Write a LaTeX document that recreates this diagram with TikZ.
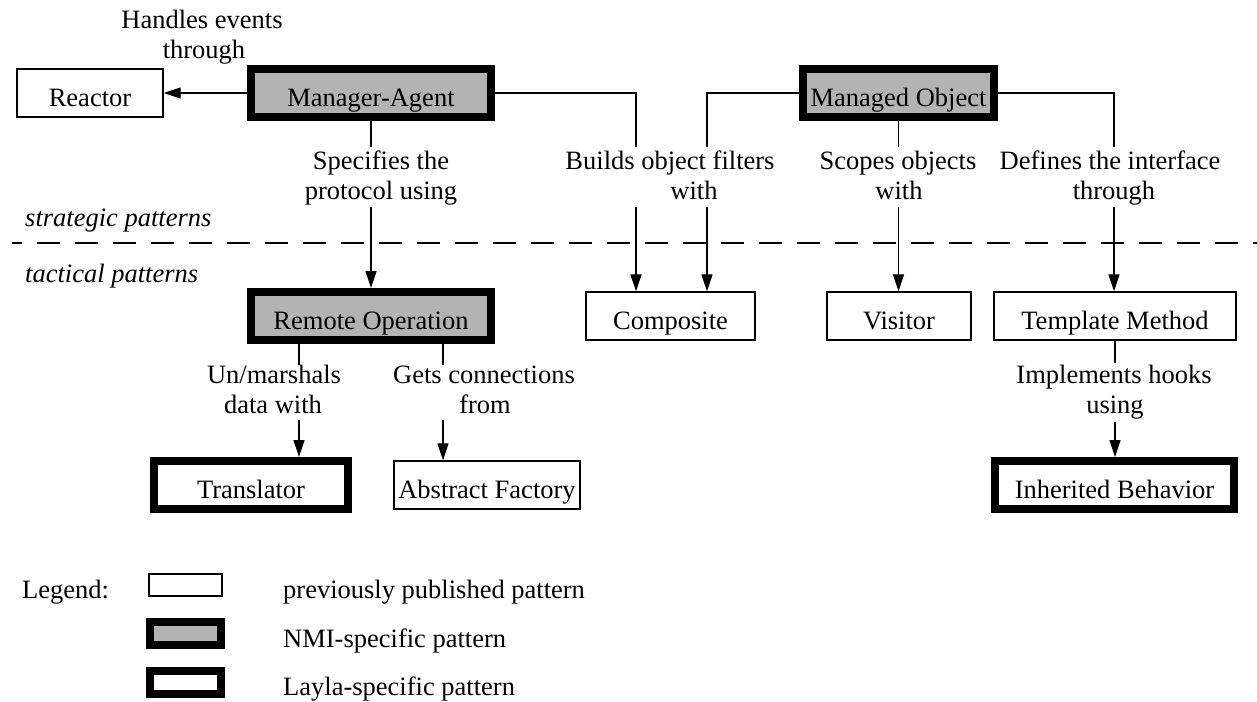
\documentclass[tikz,border=0pt]{standalone}
\usepackage{fontspec}
\setmainfont{Liberation Serif}
\usetikzlibrary{arrows.meta}
\definecolor{boxgray}{RGB}{179,179,179}
\begin{document}
\begin{tikzpicture}[x=1pt,y=-1pt,
  font=\fontsize{26.5}{30}\selectfont,
  base/.style={inner sep=0pt, text height=26pt, text depth=0pt, minimum height=48pt},
  plainbox/.style={base, draw, line width=1.4pt, fill=white},
  nmibox/.style={base, draw, line width=8pt, fill=boxgray},
  laylabox/.style={base, draw, line width=8pt, fill=white},
  conn/.style={line width=1.3pt},
  arr/.style={conn, -{Triangle[length=17pt,width=11pt]}},
  lbl/.style={anchor=base, inner sep=0pt},
  side/.style={anchor=base west, inner sep=0pt},
]
\useasboundingbox (0,0) rectangle (1257,701);

% boxes
\node[plainbox, minimum width=146pt] (reactor) at (90,93) {Reactor};
\node[nmibox, minimum width=240pt] (ma) at (371,93) {Manager-Agent};
\node[nmibox, minimum width=191pt] (mo) at (898.5,93) {Managed Object};
\node[nmibox, minimum width=240pt] (ro) at (371,316) {Remote Operation};
\node[plainbox, minimum width=169pt] (comp) at (670.5,316) {Composite};
\node[plainbox, minimum width=144pt] (vis) at (899,316) {Visitor};
\node[plainbox, minimum width=242pt] (tm) at (1115,316) {Template Method};
\node[laylabox, minimum width=194pt] (tr) at (251,485) {Translator};
\node[plainbox, minimum width=186pt] (af) at (487,485) {Abstract Factory};
\node[laylabox, minimum width=239pt] (ib) at (1114.5,485) {Inherited Behavior};

% labels
\node[lbl] (l1a) at (202,29) {Handles events};
\node[lbl] (l1b) at (204,59) {through};
\node[lbl] (l2a) at (381,169) {Specifies the};
\node[lbl] (l2b) at (381,199) {protocol using};
\node[lbl] (l3a) at (670,169) {Builds object filters};
\node[lbl] (l3b) at (694,199) {with};
\node[lbl] (l4a) at (898,169) {Scopes objects};
\node[lbl] (l4b) at (899,199) {with};
\node[lbl] (l5a) at (1110,169) {Defines the interface};
\node[lbl] (l5b) at (1114,199) {through};
\node[lbl] (l6a) at (274,383) {Un/marshals};
\node[lbl] (l6b) at (273,413) {data with};
\node[lbl] (l7a) at (484,383) {Gets connections};
\node[lbl] (l7b) at (485,413) {from};
\node[lbl] (l8a) at (1114,383) {Implements hooks};
\node[lbl] (l8b) at (1115,413) {using};

\node[side] (strat) at (25,226) {\itshape strategic patterns};
\node[side] (tact) at (25,282) {\itshape tactical patterns};
\draw[conn, dash pattern=on 23pt off 15pt, dash phase=13pt] (12,243) -- (1257,243);

% connector waypoints
\coordinate (a1) at (371,147);  \coordinate (a1b) at (371,207);
\coordinate (a2) at (636,147);  \coordinate (a2b) at (636,207);
\coordinate (a3) at (707,147);  \coordinate (a3b) at (707,207);
\coordinate (a4) at (898.5,147);\coordinate (a4b) at (898.5,207);
\coordinate (a5) at (1114,147); \coordinate (a5b) at (1114,207);
\coordinate (a6) at (299,365);  \coordinate (a6b) at (299,420);
\coordinate (a7) at (443,365);  \coordinate (a7b) at (443,420);
\coordinate (a8) at (1115,363); \coordinate (a8b) at (1115,422);

% connectors
\draw[arr] (ma.west) -- (reactor.east);
\draw[conn] (ma.south) -- (a1);
\draw[arr] (a1b) -- (ro.north);
\draw[conn] (ma.east) -| (a2);
\draw[arr] (a2b) -- (a2b |- comp.north);
\draw[conn] (mo.west) -| (a3);
\draw[arr] (a3b) -- (a3b |- comp.north);
\draw[conn] (mo.south) -- (a4);
\draw[arr] (a4b) -- (a4b |- vis.north);
\draw[conn] (mo.east) -| (a5);
\draw[arr] (a5b) -- (a5b |- tm.north);
\draw[conn] (a6 |- ro.south) -- (a6);
\draw[arr] (a6b) -- (a6b |- tr.north);
\draw[conn] (a7 |- ro.south) -- (a7);
\draw[arr] (a7b) -- (a7b |- af.north);
\draw[conn] (tm.south) -- (a8);
\draw[arr] (a8b) -- (a8b |- ib.north);

% legend
\node[side] (leg) at (22,598) {Legend:};
\node[draw, line width=1.4pt, inner sep=0pt, minimum width=73pt, minimum height=22pt] (lg1) at (185.5,585) {};
\node[draw, line width=8pt, fill=boxgray, inner sep=0pt, minimum width=71pt, minimum height=23pt] (lg2) at (185.5,633.5) {};
\node[draw, line width=8pt, fill=white, inner sep=0pt, minimum width=71pt, minimum height=23pt] (lg3) at (185.5,682.5) {};
\node[side] (lt1) at (283,598) {previously published pattern};
\node[side] (lt2) at (283,647) {NMI-specific pattern};
\node[side] (lt3) at (283,695) {Layla-specific pattern};
\end{tikzpicture}
\end{document}
